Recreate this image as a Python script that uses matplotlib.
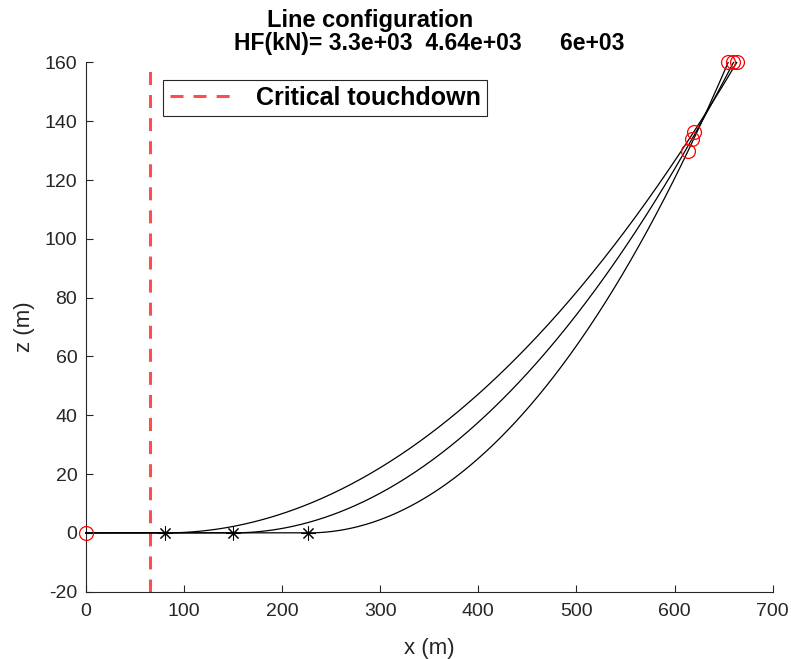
import numpy as np
import matplotlib
matplotlib.use("Agg")
import matplotlib.pyplot as plt

plt.rcParams['font.family'] = ['Liberation Sans', 'DejaVu Sans']
plt.rcParams['axes.unicode_minus'] = False

# Mooring line data
HF_kN = [3.3e3, 4.64e3, 6e3]            # horizontal fairlead tension per case
touchdown_x = [226.8, 149.7, 81.1]      # touchdown point on seabed (m)
w_kN_per_m = 5.53                       # submerged line weight
fairlead_z = 160.0                      # fairlead height above seabed (m)
anchor = (0.0, 0.0)
marker_x = [613.8, 617.9, 619.8]        # intermediate points marked on each line
critical_touchdown_x = 66.0

GREY = '#262626'
RED = '#ff4d4d'

fig = plt.figure(figsize=(7.91, 6.59), dpi=100)
ax = fig.add_axes([85.7 / 791, 1 - 591.7 / 659, 687 / 791, 529.2 / 659])


def catenary_z(x, xtd, a):
    return np.where(x > xtd, a * (np.cosh((x - xtd) / a) - 1.0), 0.0)


circle = dict(linestyle='none', marker='o', ms=10, mfc='none', mec='red',
              mew=0.9, zorder=5, clip_on=False)

for hf, xtd, xm in zip(HF_kN, touchdown_x, marker_x):
    a = hf / w_kN_per_m
    xf = xtd + a * np.arccosh(1.0 + fairlead_z / a)
    xs = np.linspace(anchor[0], xf, 600)
    zs = catenary_z(xs, xtd, a)
    ax.plot(xs, zs, color='black', lw=0.9, zorder=3, clip_on=False)
    ax.plot([xtd], [0.0], linestyle='none', marker=(8, 2, 0), ms=10,
            mec='black', mew=0.75, zorder=4)
    ax.plot([xf], [fairlead_z], **circle)
    ax.plot([xm], [float(catenary_z(np.array(xm), xtd, a))], **circle)

ax.plot([anchor[0]], [anchor[1]], **circle)

crit, = ax.plot([critical_touchdown_x, critical_touchdown_x], [-20, 160],
                color=RED, lw=2.2, linestyle=(0, (4.25, 3.3)),
                label='Critical touchdown', zorder=2)

ax.set_xlim(0, 700)
ax.set_ylim(-20, 160)
ax.set_xticks(np.arange(0, 701, 100))
ax.set_yticks(np.arange(-20, 161, 20))

for side in ('top', 'right'):
    ax.spines[side].set_visible(False)
for side in ('left', 'bottom'):
    ax.spines[side].set_color(GREY)
    ax.spines[side].set_linewidth(0.8)

ax.tick_params(direction='in', length=5, width=0.8, colors=GREY,
               labelsize=14)
ax.tick_params(axis='x', pad=8)
ax.tick_params(axis='y', pad=6)

ax.set_xlabel('x (m)', fontsize=16, color=GREY, labelpad=13)
ax.set_ylabel('z (m)', fontsize=16, color=GREY, labelpad=7)

leg = ax.legend(handles=[crit], loc='upper left',
                bbox_to_anchor=(0.113, 0.967), borderaxespad=0,
                prop={'size': 18, 'weight': 'bold'}, handlelength=2.6,
                handletextpad=0.85, borderpad=0.25, fancybox=False,
                framealpha=1, edgecolor=GREY)
leg.get_frame().set_linewidth(0.8)

fig.text(370 / 791, 1 - 26.7 / 659, 'Line configuration', ha='center',
         va='baseline', fontsize=17, fontweight='bold', color='black')
hf_line = 'HF(kN)= {}  {}      {}'.format(*[f'{v:.3g}' for v in HF_kN])
fig.text(429 / 791, 1 - 50 / 659, hf_line, ha='center', va='baseline',
         fontsize=16.5, fontweight='bold', color='black')

fig.savefig('out.png', dpi=100)
